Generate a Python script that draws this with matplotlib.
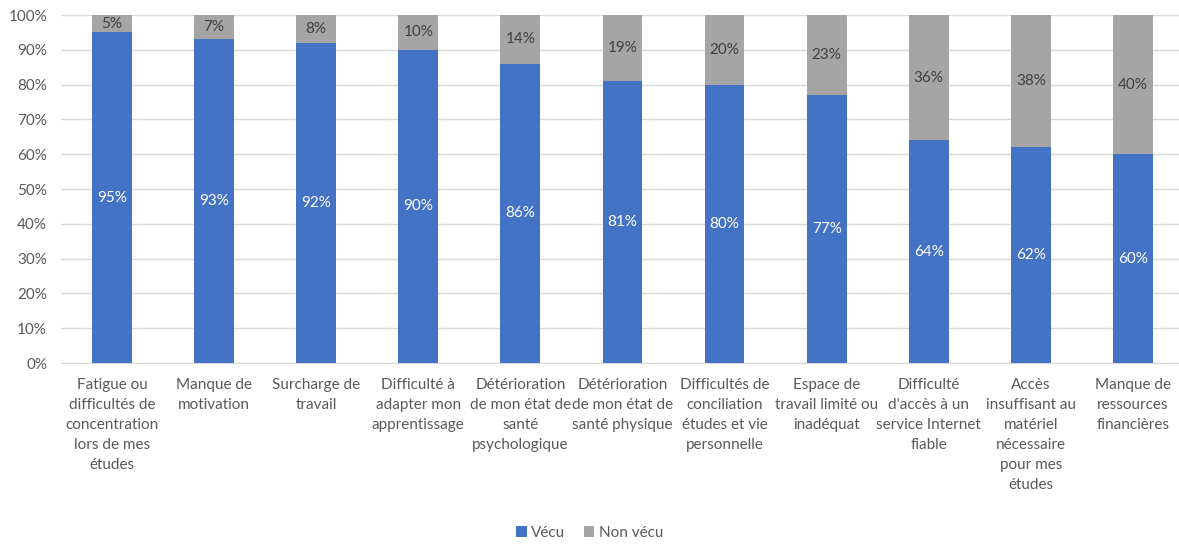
import matplotlib
matplotlib.use("Agg")
import matplotlib.pyplot as plt
from matplotlib.ticker import PercentFormatter

categories = [
    "Fatigue ou\ndifficultés de\nconcentration\nlors de mes\nétudes",
    "Manque de\nmotivation",
    "Surcharge de\ntravail",
    "Difficulté à\nadapter mon\napprentissage",
    "Détérioration\nde mon état de\nsanté\npsychologique",
    "Détérioration\nde mon état de\nsanté physique",
    "Difficultés de\nconciliation\nétudes et vie\npersonnelle",
    "Espace de\ntravail limité ou\ninadéquat",
    "Difficulté\nd'accès à un\nservice Internet\nfiable",
    "Accès\ninsuffisant au\nmatériel\nnécessaire\npour mes\nétudes",
    "Manque de\nressources\nfinancières",
]
vecu = [95, 93, 92, 90, 86, 81, 80, 77, 64, 62, 60]
non_vecu = [5, 7, 8, 10, 14, 19, 20, 23, 36, 38, 40]
series_names = ["Vécu", "Non vécu"]

plt.rcParams['font.family'] = ['Lato', 'DejaVu Sans']
text_color = "#595959"

fig = plt.figure(figsize=(11.79, 5.44), dpi=100)
ax = fig.add_axes([0.0517, 0.3327, 0.9525, 0.6397])

x = list(range(len(categories)))
b1 = ax.bar(x, vecu, width=0.39, color="#4472C4", label=series_names[0], zorder=3)
b2 = ax.bar(x, non_vecu, width=0.39, bottom=vecu, color="#A5A5A5", label=series_names[1], zorder=3)

for rect, v in zip(b1, vecu):
    ax.text(rect.get_x() + rect.get_width() / 2, v / 2, f"{v}%", ha="center", va="center",
            color="white", fontsize=11, zorder=4)
for rect, base, v in zip(b2, vecu, non_vecu):
    ax.text(rect.get_x() + rect.get_width() / 2, base + v / 2, f"{v}%", ha="center", va="center",
            color="#404040", fontsize=11, zorder=4)

ax.set_ylim(0, 100)
ax.set_xlim(-0.5, len(categories) - 0.5)
ax.set_yticks(range(0, 101, 10))
ax.yaxis.set_major_formatter(PercentFormatter(decimals=0))
ax.set_xticks(x)
ax.set_xticklabels(categories, fontsize=11, color=text_color, linespacing=1.54)
ax.tick_params(axis="y", labelsize=11, labelcolor=text_color, length=0, pad=10)
ax.tick_params(axis="x", length=0, pad=11)
ax.grid(axis="y", color="#D9D9D9", linewidth=1, zorder=0)
for s in ["top", "right", "left"]:
    ax.spines[s].set_visible(False)
ax.spines["bottom"].set_color("#D9D9D9")

fig.legend(handles=[b1, b2], labels=series_names, loc="center", bbox_to_anchor=(0.5, 0.02),
           ncol=2, frameon=False, fontsize=11, labelcolor=text_color,
           handlelength=0.7, handleheight=0.7, handletextpad=0.3, columnspacing=1.2)

fig.savefig("out.png", dpi=100)
